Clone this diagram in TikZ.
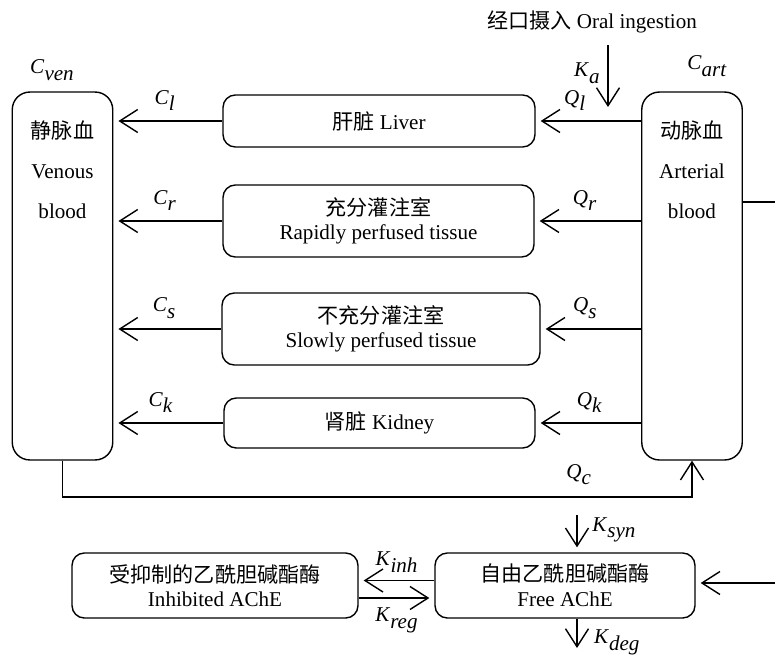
\documentclass[tikz,border=0pt]{standalone}
\usepackage{fontspec}
\setmainfont{Liberation Serif}
\newfontfamily\cjk{Noto Sans CJK SC}
\usetikzlibrary{arrows.meta,positioning}
\newcommand{\rate}[2]{\textit{#1}\raisebox{-0.7ex}{\textit{#2}}}
\tikzset{
  organ/.style={draw, rounded corners=7pt, align=center, inner sep=0pt},
  pool/.style={draw, rounded corners=10pt, inner sep=0pt, minimum width=2.01cm, minimum height=7.36cm},
  flow/.style={-{Straight Barb[length=3.6mm,width=4.6mm]}, shorten >=0.1cm},
}
\begin{document}
\begin{tikzpicture}[x=0.02cm, y=-0.02cm, line width=0.8pt, font=\large]
  \useasboundingbox (0,0) rectangle (775,660);
  % blood pools
  \node[pool] (ven) at (62.5,276) {};
  \node[pool] (art) at (692,276) {};
  \node[align=center, below] at ([yshift=-0.45cm]ven.north) {{\cjk 静脉血}\\[9pt]Venous\\[9pt]blood};
  \node[align=center, below] at ([yshift=-0.45cm]art.north) {{\cjk 动脉血}\\[9pt]Arterial\\[9pt]blood};
  \node at (52,70) {\rate{C}{ven}};
  \node at (707,66) {\rate{C}{art}};
  % tissues
  \node[organ, minimum width=6.24cm, minimum height=1.04cm] (liver) at (379,121) {{\cjk 肝脏}\ Liver};
  \node[organ, minimum width=6.22cm, minimum height=1.44cm] (rapid) at (378.5,221) {{\cjk 充分灌注室}\\Rapidly perfused tissue};
  \node[organ, minimum width=6.36cm, minimum height=1.44cm] (slow) at (381,329) {{\cjk 不充分灌注室}\\Slowly perfused tissue};
  \node[organ, minimum width=6.22cm, minimum height=1.0cm] (kidney) at (379.5,423) {{\cjk 肾脏}\ Kidney};
  % arterial -> tissue -> venous
  \draw[flow] (art.west |- liver.east) -- node[pos=0.63, above=2pt] {\rate{Q}{l}} (liver.east);
  \draw[flow] (art.west |- rapid.east) -- node[pos=0.53, above=2pt] {\rate{Q}{r}} (rapid.east);
  \draw[flow] (art.west |- slow.east) -- node[pos=0.56, above=2pt] {\rate{Q}{s}} (slow.east);
  \draw[flow] (art.west |- kidney.east) -- node[pos=0.49, above=2pt] {\rate{Q}{k}} (kidney.east);
  \draw[flow] (liver.west) -- node[pos=0.53, above=2pt] {\rate{C}{l}} (ven.east |- liver.west);
  \draw[flow] (rapid.west) -- node[pos=0.53, above=2pt] {\rate{C}{r}} (ven.east |- rapid.west);
  \draw[flow] (slow.west) -- node[pos=0.53, above=2pt] {\rate{C}{s}} (ven.east |- slow.west);
  \draw[flow] (kidney.west) -- node[pos=0.57, above=2pt] {\rate{C}{k}} (ven.east |- kidney.west);
  % cardiac output loop
  \coordinate (loop) at (0,497);
  \draw[-{Straight Barb[length=3.6mm,width=4.6mm]}] (ven.south) -- (ven.south |- loop) -- node[pos=0.82, above=3pt] {\rate{Q}{c}} (art.south |- loop) -- (art.south);
  % oral ingestion
  \node (oral) at (592,22) {{\cjk 经口摄入} Oral ingestion};
  \coordinate (katop) at (608,45);
  \coordinate (kabot) at (608,107);
  \draw[-{Straight Barb[length=3.6mm,width=4.6mm]}] (katop) -- node[pos=0.45, left=1pt] {\rate{K}{a}} (kabot);
  % AChE
  \node[organ, minimum width=5.72cm, minimum height=1.3cm] (inhib) at (215,585.5) {{\cjk 受抑制的乙酰胆碱酯酶}\\Inhibited AChE};
  \node[organ, minimum width=5.2cm, minimum height=1.3cm] (free) at (565,585.5) {{\cjk 自由乙酰胆碱酯酶}\\Free AChE};
  \draw[flow] ([yshift=0.1cm]free.west) -- node[above=1pt] {\rate{K}{inh}} ([yshift=0.1cm]inhib.east);
  \draw[flow] ([yshift=-0.25cm]inhib.east) -- node[below=2pt] {\rate{K}{reg}} ([yshift=-0.25cm]free.west);
  \coordinate (syntop) at (577,515);
  \coordinate (degbot) at (577,648);
  \draw[flow] (syntop) -- node[pos=0.4, right=5pt] {\rate{K}{syn}} (syntop |- free.north);
  \draw[-{Straight Barb[length=3.6mm,width=4.6mm]}] (degbot |- free.south) -- node[pos=0.8, right=6pt] {\rate{K}{deg}} (degbot);
  % lines running off the right edge
  \coordinate (rtop) at (775,202);
  \coordinate (rbot) at (775,583);
  \draw (art.east |- rtop) -- (rtop);
  \draw[flow] (rbot) -- (free.east |- rbot);
\end{tikzpicture}
\end{document}
